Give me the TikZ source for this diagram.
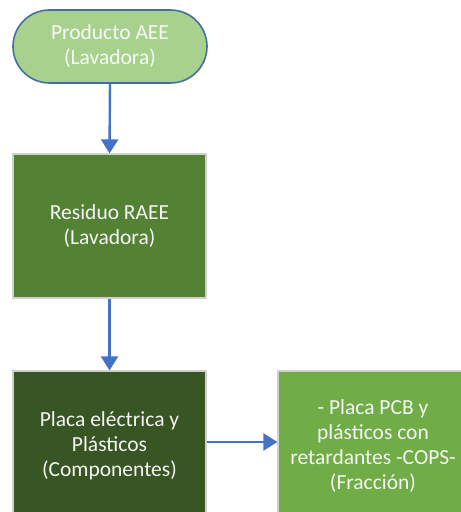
\documentclass[tikz,border=0pt]{standalone}
\usepackage{fontspec}
\setmainfont{Carlito}
\usetikzlibrary{arrows.meta,shapes.misc}
\definecolor{lightgreen}{HTML}{A9D18E}
\definecolor{midgreen}{HTML}{548235}
\definecolor{darkgreen}{HTML}{375623}
\definecolor{brightgreen}{HTML}{70AD47}
\definecolor{outlineblue}{HTML}{41719C}
\definecolor{arrowblue}{HTML}{4472C4}
\definecolor{boxedge}{HTML}{D0D0D0}
\tikzset{
  x=1pt, y=1pt,
  label text/.style={text=white!96!black, font=\fontsize{21.5}{25}\selectfont, align=center},
  terminal/.style={rounded rectangle, draw=outlineblue, line width=1.6pt, fill=lightgreen,
    minimum width=194pt, minimum height=73pt, inner sep=0pt, label text, text=white!90!lightgreen},
  stepbox/.style={rectangle, draw=boxedge, line width=1.2pt, minimum width=193pt, inner sep=0pt, label text},
  flow/.style={draw=arrowblue, line width=2.4pt, -{Triangle[width=17pt,length=14pt]}}
}
\begin{document}
\begin{tikzpicture}
  \useasboundingbox (0,0) rectangle (461,512);
  \begin{scope}
    \clip (0,0) rectangle (461,512);
    \node[terminal] (aee) at (110,465.5) {Producto AEE\\(Lavadora)};
    \node[stepbox, fill=midgreen, minimum height=144pt] (raee) at (109.5,286) {Residuo RAEE\\(Lavadora)};
    \node[stepbox, fill=darkgreen, minimum height=150pt] (placa) at (109.5,66) {Placa eléctrica y\\Plásticos\\(Componentes)};
    \node[stepbox, fill=brightgreen, minimum width=190pt, minimum height=150pt] (pcb) at (373,66) {- Placa PCB y\\plásticos con\\retardantes -COPS-\\(Fracción)};
    \draw[flow] (aee.south) -- (raee.north);
    \draw[flow] (raee.south) -- (placa.north);
    \draw[flow] (placa.east |- 0,70) coordinate (h1) -- (pcb.west |- h1);
  \end{scope}
\end{tikzpicture}
\end{document}
